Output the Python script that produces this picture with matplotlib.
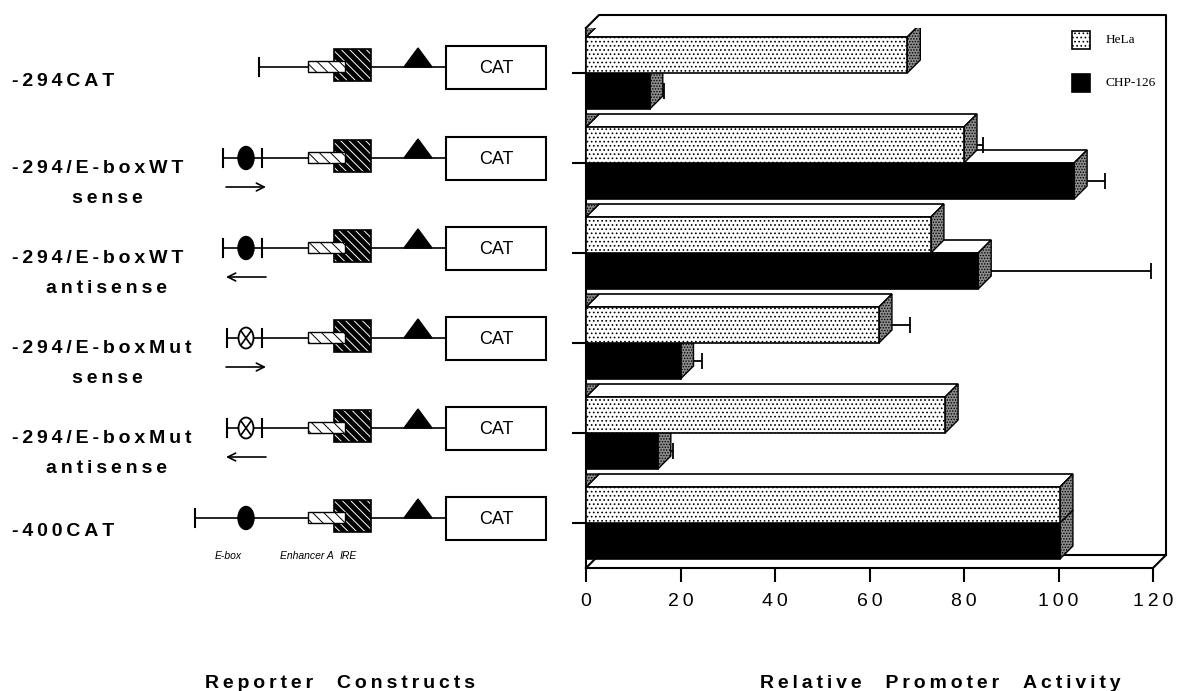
import numpy as np
import matplotlib.pyplot as plt
from matplotlib.patches import Polygon, Rectangle, Ellipse

# data ---------------------------------------------------------------
row_main = ['-294CAT', '-294/E-boxWT', '-294/E-boxWT', '-294/E-boxMut', '-294/E-boxMut', '-400CAT']
row_sub = ['', 'sense', 'antisense', 'sense', 'antisense', '']
ebox_kind = ['none', 'wt', 'wt', 'mut', 'mut', 'wt']
arrow_dir = [0, 1, -1, 1, -1, 0]

hela = [68, 80, 73, 62, 76, 100.3]
chp = [13.5, 103.3, 83, 20, 15.2, 100.3]
hela_err = [0, 4, 0, 6.5, 0, 0]
chp_err = [3, 6.5, 36.5, 4.5, 3.3, 0]
xticks = [0, 20, 40, 60, 80, 100, 120]

W, H = 1179, 691
plt.rcParams['hatch.linewidth'] = 0.7
fig = plt.figure(figsize=(W / 100, H / 100), dpi=100)


def spaced(s):
    return '\u2009'.join(s)


def spaced_words(words):
    return '\u2009   \u2009'.join(spaced(w) for w in words)


# left panel: construct drawings (pixel coordinates) -----------------
axl = fig.add_axes([0, 0, 1, 1])
axl.set_xlim(0, W)
axl.set_ylim(H, 0)
axl.axis('off')

line_y = [67, 158, 248, 338, 428, 518]
left_end = [259, 223, 223, 227, 227, 195]
ebox_x = 246

for i in range(6):
    y = line_y[i]
    axl.plot([left_end[i], 446], [y, y], color='k', lw=1.2, zorder=1)
    axl.plot([left_end[i]] * 2, [y - 9, y + 9], color='k', lw=1.5, zorder=1)
    if ebox_kind[i] != 'none':
        if i in (1, 2, 3, 4):
            axl.plot([262, 262], [y - 9, y + 9], color='k', lw=1.5, zorder=1)
        if ebox_kind[i] == 'wt':
            axl.add_patch(Ellipse((ebox_x, y), 16, 23, facecolor='k', edgecolor='k', zorder=3))
        else:
            axl.add_patch(Ellipse((ebox_x, y), 15, 21, facecolor='w', edgecolor='k', lw=1.3, zorder=3))
            axl.plot([ebox_x - 5, ebox_x + 5], [y - 7, y + 7], color='k', lw=1.2, zorder=4)
            axl.plot([ebox_x - 5, ebox_x + 5], [y + 7, y - 7], color='k', lw=1.2, zorder=4)
    # enhancer A (dark square, light bar on top)
    axl.add_patch(Rectangle((334, y - 18), 37, 32, facecolor='k', edgecolor='w',
                            hatch='\\\\\\\\', lw=0, zorder=2))
    axl.add_patch(Rectangle((334, y - 18), 37, 32, fill=False, edgecolor='k', lw=1.2, zorder=2))
    axl.add_patch(Rectangle((308, y - 6), 37, 11, facecolor='w', edgecolor='k',
                            hatch='\\\\\\', lw=1.0, zorder=3))
    # IRE triangle
    axl.add_patch(Polygon([(404, y), (418, y - 19), (432, y)], closed=True,
                          facecolor='k', edgecolor='k', zorder=3))
    # CAT box
    axl.add_patch(Rectangle((446, y - 21), 100, 43, facecolor='w', edgecolor='k', lw=1.5, zorder=3))
    axl.text(496, y + 1, 'CAT', ha='center', va='center', fontsize=13,
             family='Liberation Sans', zorder=4)
    # direction arrow
    if arrow_dir[i] != 0:
        xa, xb = (226, 266) if arrow_dir[i] > 0 else (266, 226)
        axl.annotate('', xy=(xb, y + 29), xytext=(xa, y + 29),
                     arrowprops=dict(arrowstyle='->', lw=1.2, color='k',
                                     shrinkA=0, shrinkB=0, mutation_scale=14))
    # row labels
    lab_kw = dict(fontsize=14, fontweight='bold', family='Liberation Sans', va='center')
    if row_sub[i]:
        axl.text(12, y + 10, spaced(row_main[i]), ha='left', **lab_kw)
        axl.text(107, y + 40, spaced(row_sub[i]), ha='center', **lab_kw)
    else:
        axl.text(12, y + 14, spaced(row_main[i]), ha='left', **lab_kw)

for txt, xx in [('E-box', 215), ('Enhancer A', 280), ('IRE', 340)]:
    axl.text(xx, 556, txt, ha='left', va='center', fontsize=7.5, style='italic',
             family='Liberation Sans')

axl.text(340, 683, spaced_words(['Reporter', 'Constructs']),
         ha='center', va='center', fontsize=14, fontweight='bold', family='Liberation Sans')
axl.text(940, 683, spaced_words(['Relative', 'Promoter', 'Activity']),
         ha='center', va='center', fontsize=14, fontweight='bold', family='Liberation Sans')

# legend
axl.add_patch(Rectangle((1072, 31), 18, 18, facecolor='w', edgecolor='k', hatch='....', lw=1.2))
axl.add_patch(Rectangle((1072, 74), 18, 18, facecolor='k', edgecolor='k', lw=1.2))
axl.text(1106, 40, 'HeLa', ha='left', va='center', fontsize=9.5, family='Liberation Serif')
axl.text(1106, 83, 'CHP-126', ha='left', va='center', fontsize=9.5, family='Liberation Serif')

# right panel: pseudo-3D bars -----------------------------------------
x0, x1, ytop, ybot = 586, 1153, 28, 568
ax = fig.add_axes([x0 / W, 1 - ybot / H, (x1 - x0) / W, (ybot - ytop) / H])
ax.set_facecolor('none')
ax.set_xlim(0, 120)
ax.set_ylim(5.5, -0.5)

dx = 13 * 120 / (x1 - x0)
dy = 13 * 6 / (ybot - ytop)
bh = 0.4
side_kw = dict(facecolor='0.55', edgecolor='k', hatch='......', lw=1.0)


def bar3d(v, yc, front_kw, z):
    yt, yb = yc - bh / 2, yc + bh / 2
    ax.add_patch(Polygon([(0, yt), (dx, yt - dy), (v + dx, yt - dy), (v, yt)], closed=True,
                         facecolor='w', edgecolor='k', lw=1.2, zorder=z))
    ax.add_patch(Polygon([(v, yt), (v + dx, yt - dy), (v + dx, yb - dy), (v, yb)], closed=True,
                         zorder=z, **side_kw))
    ax.barh(yc, v, height=bh, left=0, zorder=z + 0.1, **front_kw)


hela_kw = dict(color='w', edgecolor='k', hatch='....', lw=1.2)
chp_kw = dict(color='k', edgecolor='k', lw=1.2)

groups = np.arange(6)
for i in groups:
    yh, yc = i - bh / 2, i + bh / 2
    # CHP-126 first (behind), then HeLa
    if chp_err[i] > 0:
        ax.errorbar(chp[i], yc, xerr=[[0], [chp_err[i]]], fmt='none', ecolor='k',
                    elinewidth=1.3, capsize=6, capthick=1.3, zorder=10 * i + 1)
    bar3d(chp[i], yc, chp_kw, 10 * i + 2)
    if hela_err[i] > 0:
        ax.errorbar(hela[i], yh, xerr=[[0], [hela_err[i]]], fmt='none', ecolor='k',
                    elinewidth=1.3, capsize=6, capthick=1.3, zorder=10 * i + 4)
    bar3d(hela[i], yh, hela_kw, 10 * i + 5)
    # shaded left end of group
    yt = yh - bh / 2
    ax.add_patch(Polygon([(0, yt - dy), (dx, yt - dy), (0, yt)], closed=True,
                         zorder=10 * i + 6, **side_kw))

# frame (back wall and floor)
kw = dict(color='k', lw=1.5, clip_on=False, zorder=0)
ax.plot([0, dx, 120 + dx, 120 + dx, 120], [-0.5, -0.5 - dy, -0.5 - dy, 5.5 - dy, 5.5], **kw)
ax.plot([dx, 120 + dx], [5.5 - dy, 5.5 - dy], **kw)
ax.plot([0, dx], [5.5, 5.5 - dy], **kw)

for s in ['top', 'right']:
    ax.spines[s].set_visible(False)
for s in ['left', 'bottom']:
    ax.spines[s].set_linewidth(1.5)
ax.set_xticks(xticks)
ax.set_xticklabels([spaced(str(t)) for t in xticks], fontsize=14, family='Liberation Sans')
ax.set_yticks(groups)
ax.set_yticklabels([])
ax.tick_params(axis='both', direction='out', length=10, width=1.5)
ax.tick_params(axis='x', pad=8)

fig.savefig('out.png', dpi=100)
